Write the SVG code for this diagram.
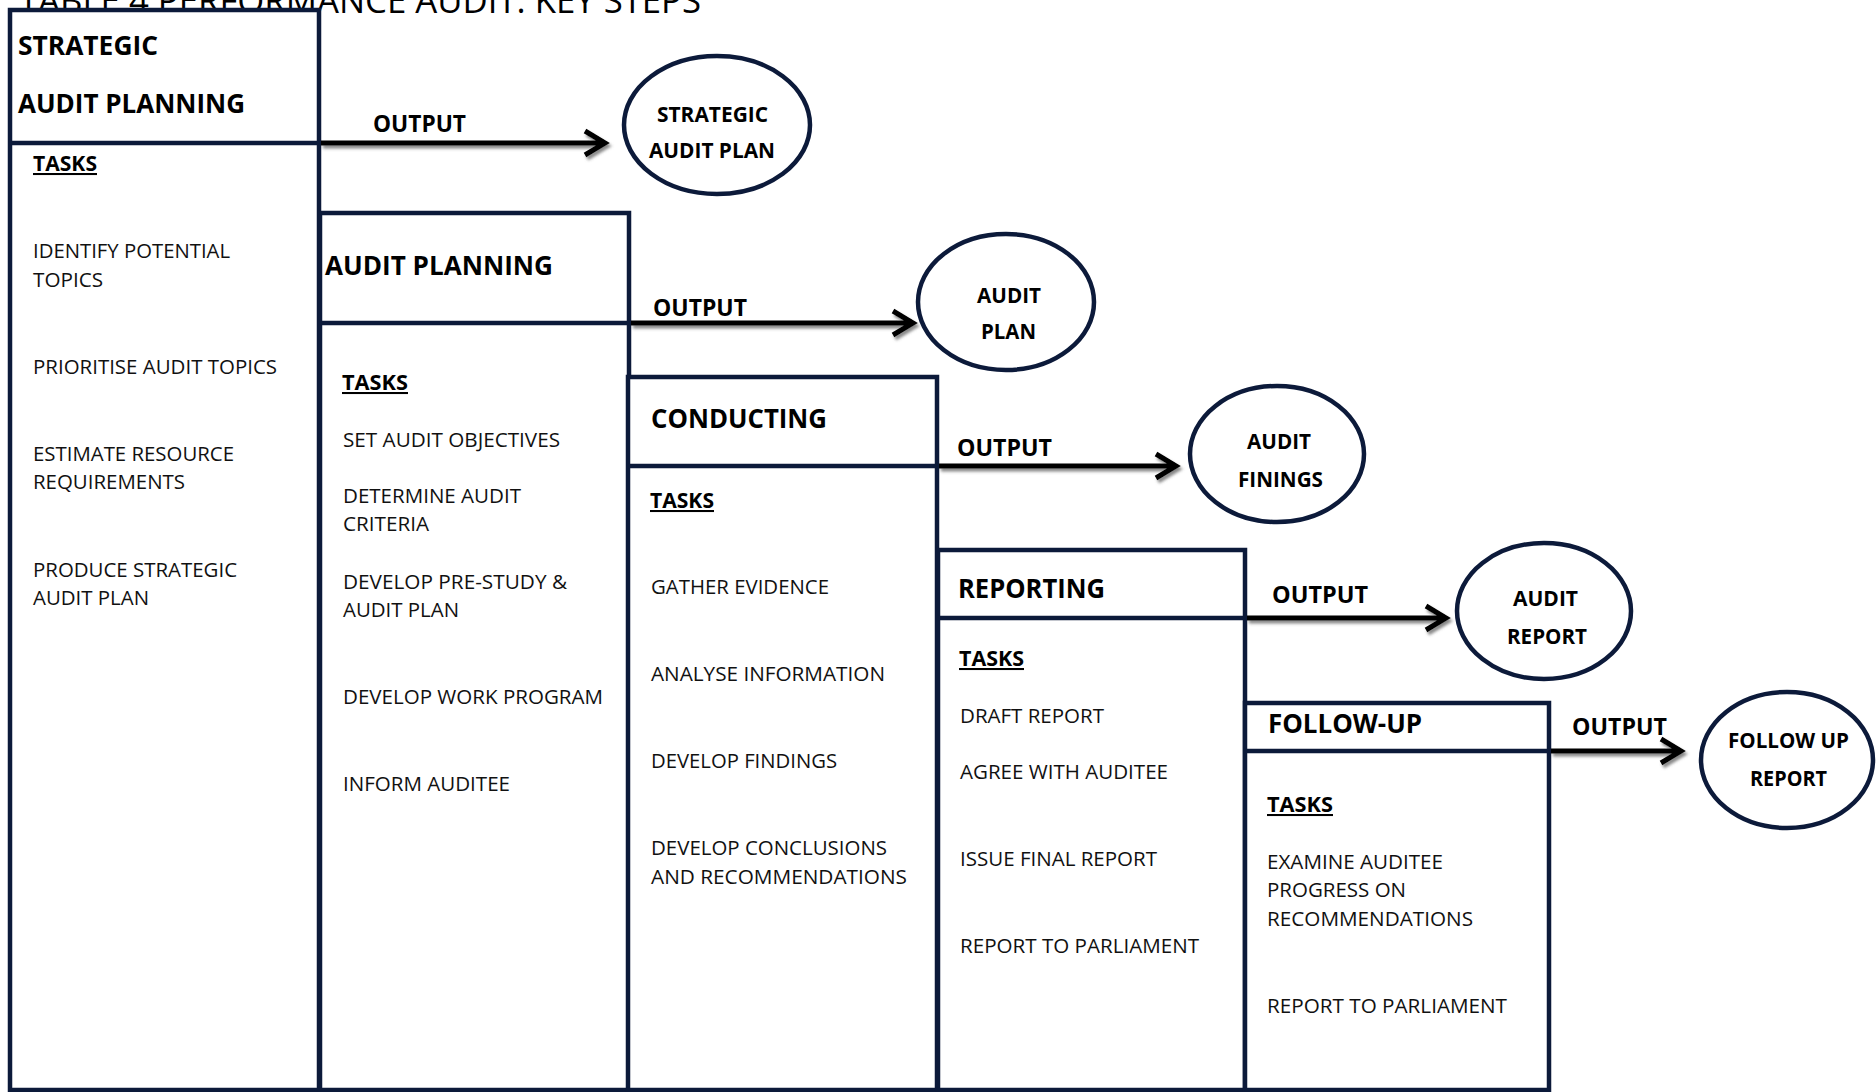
<svg xmlns="http://www.w3.org/2000/svg" width="1876" height="1092" viewBox="0 0 1876 1092">
  <defs>
    <style>
      .stage { fill: #ffffff; stroke: #0c1a3a; stroke-width: 4.5; }
      .rule { stroke: #0c1a3a; stroke-width: 4.5; }
      .out { fill: #ffffff; stroke: #0c1a3a; stroke-width: 4.5; }
      .title { font-family: "Open Sans", "DejaVu Sans", sans-serif; font-size: 35px; font-weight: 400; fill: #000000; }
      .head { font-family: "Open Sans", "DejaVu Sans", sans-serif; font-size: 26px; font-weight: 700; fill: #000000; }
      .lbl { font-family: "Open Sans", "DejaVu Sans", sans-serif; font-size: 23px; font-weight: 700; fill: #000000; }
      .oval { font-family: "Open Sans", "DejaVu Sans", sans-serif; font-size: 21.5px; font-weight: 700; fill: #000000; }
      .tasks { font-family: "Open Sans", "DejaVu Sans", sans-serif; font-size: 20.5px; font-weight: 700; fill: #000000; text-decoration: underline; }
      .item { font-family: "Open Sans", "DejaVu Sans", sans-serif; font-size: 20.7px; font-weight: 400; fill: #111111; }
      .shaft { fill: none; stroke: #000000; stroke-width: 5; stroke-linejoin: miter; stroke-linecap: butt; }
    </style>
    <filter id="shade" x="-10%" y="-60%" width="120%" height="220%">
      <feDropShadow dx="2" dy="3" stdDeviation="1.4" flood-color="#555555" flood-opacity="0.7"/>
    </filter>
  </defs>

  <rect x="0" y="0" width="1876" height="1092" fill="#ffffff"/>

  <!-- caption, partly hidden behind the first stage -->
  <g id="title">
    <text class="title" x="19" y="13" textLength="682" lengthAdjust="spacingAndGlyphs">TABLE 4 PERFORMANCE AUDIT: KEY STEPS</text>
  </g>

  <!-- stage 1 -->
  <g id="stage-strategic-audit-planning">
    <rect class="stage" x="10" y="10" width="309" height="1080"/>
    <line class="rule" x1="10" y1="143" x2="319" y2="143"/>
    <text class="head" x="18" y="55" textLength="140" lengthAdjust="spacingAndGlyphs">STRATEGIC</text>
    <text class="head" x="18" y="113" textLength="227" lengthAdjust="spacingAndGlyphs">AUDIT PLANNING</text>
    <text class="tasks" x="33" y="171" textLength="64" lengthAdjust="spacingAndGlyphs">TASKS</text>
    <text class="item" x="33" y="258" textLength="197" lengthAdjust="spacingAndGlyphs">IDENTIFY POTENTIAL</text>
    <text class="item" x="33" y="287" textLength="70" lengthAdjust="spacingAndGlyphs">TOPICS</text>
    <text class="item" x="33" y="374" textLength="244" lengthAdjust="spacingAndGlyphs">PRIORITISE AUDIT TOPICS</text>
    <text class="item" x="33" y="461" textLength="201" lengthAdjust="spacingAndGlyphs">ESTIMATE RESOURCE</text>
    <text class="item" x="33" y="489" textLength="152" lengthAdjust="spacingAndGlyphs">REQUIREMENTS</text>
    <text class="item" x="33" y="577" textLength="204" lengthAdjust="spacingAndGlyphs">PRODUCE STRATEGIC</text>
    <text class="item" x="33" y="605" textLength="116" lengthAdjust="spacingAndGlyphs">AUDIT PLAN</text>
  </g>

  <!-- stage 2 -->
  <g id="stage-audit-planning">
    <rect class="stage" x="320" y="213" width="309" height="877"/>
    <line class="rule" x1="320" y1="323" x2="629" y2="323"/>
    <text class="head" x="325" y="275" textLength="228" lengthAdjust="spacingAndGlyphs">AUDIT PLANNING</text>
    <text class="tasks" x="342" y="390" textLength="66" lengthAdjust="spacingAndGlyphs">TASKS</text>
    <text class="item" x="343" y="447" textLength="217" lengthAdjust="spacingAndGlyphs">SET AUDIT OBJECTIVES</text>
    <text class="item" x="343" y="503" textLength="178" lengthAdjust="spacingAndGlyphs">DETERMINE AUDIT</text>
    <text class="item" x="343" y="531" textLength="86" lengthAdjust="spacingAndGlyphs">CRITERIA</text>
    <text class="item" x="343" y="589" textLength="224" lengthAdjust="spacingAndGlyphs">DEVELOP PRE-STUDY &amp;</text>
    <text class="item" x="343" y="617" textLength="116" lengthAdjust="spacingAndGlyphs">AUDIT PLAN</text>
    <text class="item" x="343" y="704" textLength="260" lengthAdjust="spacingAndGlyphs">DEVELOP WORK PROGRAM</text>
    <text class="item" x="343" y="791" textLength="167" lengthAdjust="spacingAndGlyphs">INFORM AUDITEE</text>
  </g>

  <!-- stage 3 -->
  <g id="stage-conducting">
    <rect class="stage" x="628" y="377" width="309" height="713"/>
    <line class="rule" x1="628" y1="466" x2="937" y2="466"/>
    <text class="head" x="651" y="428" textLength="176" lengthAdjust="spacingAndGlyphs">CONDUCTING</text>
    <text class="tasks" x="650" y="508" textLength="64" lengthAdjust="spacingAndGlyphs">TASKS</text>
    <text class="item" x="651" y="594" textLength="178" lengthAdjust="spacingAndGlyphs">GATHER EVIDENCE</text>
    <text class="item" x="651" y="681" textLength="234" lengthAdjust="spacingAndGlyphs">ANALYSE INFORMATION</text>
    <text class="item" x="651" y="768" textLength="186" lengthAdjust="spacingAndGlyphs">DEVELOP FINDINGS</text>
    <text class="item" x="651" y="855" textLength="236" lengthAdjust="spacingAndGlyphs">DEVELOP CONCLUSIONS</text>
    <text class="item" x="651" y="884" textLength="256" lengthAdjust="spacingAndGlyphs">AND RECOMMENDATIONS</text>
  </g>

  <!-- stage 4 -->
  <g id="stage-reporting">
    <rect class="stage" x="938" y="550" width="307" height="540"/>
    <line class="rule" x1="938" y1="618" x2="1245" y2="618"/>
    <text class="head" x="958" y="598" textLength="147" lengthAdjust="spacingAndGlyphs">REPORTING</text>
    <text class="tasks" x="959" y="666" textLength="65" lengthAdjust="spacingAndGlyphs">TASKS</text>
    <text class="item" x="960" y="723" textLength="144" lengthAdjust="spacingAndGlyphs">DRAFT REPORT</text>
    <text class="item" x="960" y="779" textLength="208" lengthAdjust="spacingAndGlyphs">AGREE WITH AUDITEE</text>
    <text class="item" x="960" y="866" textLength="197" lengthAdjust="spacingAndGlyphs">ISSUE FINAL REPORT</text>
    <text class="item" x="960" y="953" textLength="239" lengthAdjust="spacingAndGlyphs">REPORT TO PARLIAMENT</text>
  </g>

  <!-- stage 5 -->
  <g id="stage-follow-up">
    <rect class="stage" x="1245" y="703" width="304" height="387"/>
    <line class="rule" x1="1245" y1="751" x2="1549" y2="751"/>
    <text class="head" x="1268" y="733" textLength="154" lengthAdjust="spacingAndGlyphs">FOLLOW-UP</text>
    <text class="tasks" x="1267" y="812" textLength="66" lengthAdjust="spacingAndGlyphs">TASKS</text>
    <text class="item" x="1267" y="869" textLength="176" lengthAdjust="spacingAndGlyphs">EXAMINE AUDITEE</text>
    <text class="item" x="1267" y="897" textLength="139" lengthAdjust="spacingAndGlyphs">PROGRESS ON</text>
    <text class="item" x="1267" y="926" textLength="206" lengthAdjust="spacingAndGlyphs">RECOMMENDATIONS</text>
    <text class="item" x="1267" y="1013" textLength="240" lengthAdjust="spacingAndGlyphs">REPORT TO PARLIAMENT</text>
  </g>

  <!-- outputs -->
  <g id="output-strategic-audit-plan">
    <ellipse class="out" cx="717" cy="125" rx="93" ry="69"/>
    <text class="oval" x="657" y="122" textLength="111" lengthAdjust="spacingAndGlyphs">STRATEGIC</text>
    <text class="oval" x="649" y="158" textLength="126" lengthAdjust="spacingAndGlyphs">AUDIT PLAN</text>
  </g>
  <g id="output-audit-plan">
    <ellipse class="out" cx="1006" cy="302" rx="88" ry="68"/>
    <text class="oval" x="977" y="303" textLength="64" lengthAdjust="spacingAndGlyphs">AUDIT</text>
    <text class="oval" x="981" y="339" textLength="55" lengthAdjust="spacingAndGlyphs">PLAN</text>
  </g>
  <g id="output-audit-findings">
    <ellipse class="out" cx="1277" cy="454" rx="87" ry="68"/>
    <text class="oval" x="1247" y="449" textLength="64" lengthAdjust="spacingAndGlyphs">AUDIT</text>
    <text class="oval" x="1238" y="487" textLength="85" lengthAdjust="spacingAndGlyphs">FININGS</text>
  </g>
  <g id="output-audit-report">
    <ellipse class="out" cx="1544" cy="611" rx="87" ry="68"/>
    <text class="oval" x="1513" y="606" textLength="65" lengthAdjust="spacingAndGlyphs">AUDIT</text>
    <text class="oval" x="1507" y="644" textLength="80" lengthAdjust="spacingAndGlyphs">REPORT</text>
  </g>
  <g id="output-follow-up-report">
    <ellipse class="out" cx="1787" cy="760" rx="86" ry="68"/>
    <text class="oval" x="1728" y="748" textLength="121" lengthAdjust="spacingAndGlyphs">FOLLOW UP</text>
    <text class="oval" x="1750" y="786" textLength="77" lengthAdjust="spacingAndGlyphs">REPORT</text>
  </g>

  <!-- OUTPUT arrows -->
  <g id="connectors">
    <g filter="url(#shade)">
      <path class="shaft" d="M321 143 H605 M585 131 L605 143 L585 155"/>
      <path class="shaft" d="M631 323 H913 M893 311 L913 323 L893 335"/>
      <path class="shaft" d="M939 466 H1176 M1156 454 L1176 466 L1156 478"/>
      <path class="shaft" d="M1247 618 H1446 M1426 606 L1446 618 L1426 630"/>
      <path class="shaft" d="M1551 751 H1681 M1661 739 L1681 751 L1661 763"/>
    </g>
    <text class="lbl" x="373" y="132" textLength="93" lengthAdjust="spacingAndGlyphs">OUTPUT</text>
    <text class="lbl" x="653" y="316" textLength="94" lengthAdjust="spacingAndGlyphs">OUTPUT</text>
    <text class="lbl" x="957" y="456" textLength="95" lengthAdjust="spacingAndGlyphs">OUTPUT</text>
    <text class="lbl" x="1272" y="603" textLength="96" lengthAdjust="spacingAndGlyphs">OUTPUT</text>
    <text class="lbl" x="1572" y="735" textLength="95" lengthAdjust="spacingAndGlyphs">OUTPUT</text>
  </g>
</svg>
